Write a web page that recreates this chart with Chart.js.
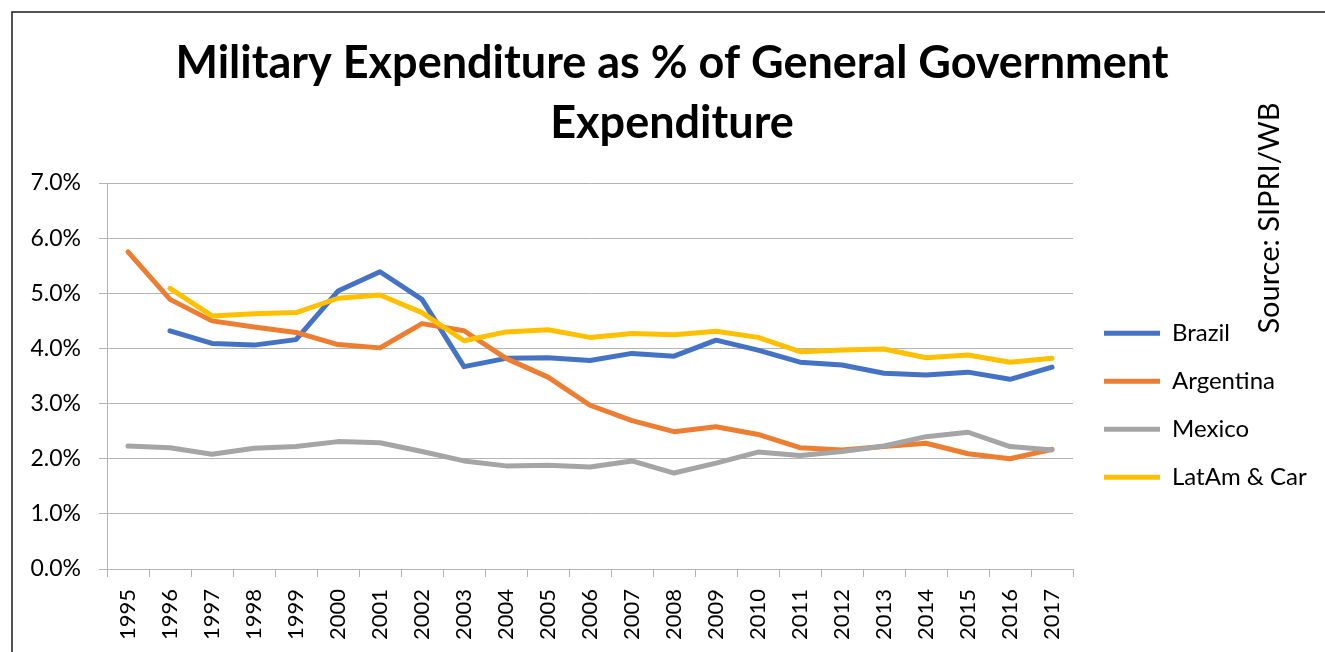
<!DOCTYPE html>
<html>
<head>
<meta charset="utf-8">
<script src="https://cdn.jsdelivr.net/npm/chart.js@4.4.1/dist/chart.umd.min.js"></script>
<style>
  html, body { margin: 0; padding: 0; background: #fff; }
  canvas { display: block; }
</style>
</head>
<body>
<canvas id="milexChart" width="1325" height="652"></canvas>
<script>
const years = ['1995','1996','1997','1998','1999','2000','2001','2002','2003','2004','2005','2006',
  '2007','2008','2009','2010','2011','2012','2013','2014','2015','2016','2017'];
const brazil = [null, 4.32, 4.09, 4.06, 4.16, 5.04, 5.39, 4.89, 3.67, 3.82, 3.83, 3.78,
  3.91, 3.86, 4.15, 3.97, 3.75, 3.70, 3.55, 3.52, 3.57, 3.44, 3.66];
const argentina = [5.75, 4.89, 4.50, 4.39, 4.29, 4.07, 4.01, 4.45, 4.32, 3.82, 3.48, 2.97,
  2.69, 2.49, 2.58, 2.44, 2.20, 2.16, 2.22, 2.28, 2.09, 2.00, 2.17];
const mexico = [2.23, 2.20, 2.08, 2.19, 2.22, 2.31, 2.29, 2.13, 1.96, 1.87, 1.88, 1.85,
  1.96, 1.74, 1.92, 2.12, 2.06, 2.13, 2.23, 2.40, 2.48, 2.22, 2.16];
const latam = [null, 5.09, 4.59, 4.63, 4.65, 4.91, 4.97, 4.65, 4.14, 4.30, 4.34, 4.20,
  4.27, 4.25, 4.31, 4.20, 3.94, 3.97, 3.99, 3.83, 3.88, 3.75, 3.82];
const seriesNames = ['Brazil', 'Argentina', 'Mexico', 'LatAm & Car'];
const seriesColors = ['#4472C4', '#ED7D31', '#A5A5A5', '#FFC000'];
const titleLines = ['Military Expenditure as % of General Government', 'Expenditure'];
const sourceText = 'Source: SIPRI/WB';

const FONT = 'Lato, "Open Sans", sans-serif';
const gridColor = '#b4b4b4';
const RIGHT_SPACE = 252; // canvas right edge minus plot right edge
const GAP_IN = 7;

function line(i, values){
  return {
    label: seriesNames[i],
    data: values,
    borderColor: seriesColors[i],
    backgroundColor: seriesColors[i],
    borderWidth: 5,
    borderCapStyle: 'round',
    borderJoinStyle: 'round',
    pointRadius: 0,
    tension: 0,
    order: 3 - i
  };
}

// frame + rotated source note
const decor = {
  id: 'decor',
  afterDraw(chart){
    const ctx = chart.ctx;
    ctx.save();
    ctx.strokeStyle = '#1a1a1a';
    ctx.lineWidth = 1.5;
    ctx.beginPath();
    ctx.moveTo(12, 660);
    ctx.lineTo(12, 12);
    ctx.lineTo(1330, 12);
    ctx.stroke();
    ctx.translate(1270, 218);
    ctx.rotate(-Math.PI / 2);
    ctx.fillStyle = '#000';
    ctx.font = '29px ' + FONT;
    ctx.textAlign = 'center';
    ctx.textBaseline = 'middle';
    ctx.fillText(sourceText, 0, 0);
    ctx.restore();
  }
};

new Chart(document.getElementById('milexChart').getContext('2d'), {
  type: 'line',
  data: {
    labels: years,
    datasets: [line(0, brazil), line(1, argentina), line(2, mexico), line(3, latam)]
  },
  options: {
    responsive: false,
    animation: false,
    devicePixelRatio: 1,
    layout: { padding: { left: 19, right: 0, top: 0, bottom: 0 } },
    plugins: {
      title: {
        display: true,
        text: titleLines,
        color: '#000',
        font: { family: FONT, size: 45, weight: 'bold', lineHeight: 60 / 45 },
        padding: { top: 33, bottom: 30 }
      },
      legend: {
        position: 'right',
        fullSize: false,
        maxWidth: 400,
        title: { display: true, text: '', font: { size: 12, lineHeight: 1.2 }, padding: { top: 44, bottom: 0 } },
        labels: {
          usePointStyle: true,
          pointStyle: 'line',
          pointStyleWidth: 56,
          padding: 24,
          color: '#000',
          font: { family: FONT, size: 24 },
          sort: (a, b) => a.datasetIndex - b.datasetIndex
        }
      },
      tooltip: { enabled: false }
    },
    scales: {
      x: {
        offset: true,
        grid: { offset: true, drawOnChartArea: false, drawTicks: true, tickLength: 8, color: gridColor },
        border: { display: true, color: gridColor },
        ticks: {
          autoSkip: false, maxRotation: 90, minRotation: 90, padding: 12,
          color: '#000', font: { family: FONT, size: 22 }
        },
        afterFit(scale){ scale.height = 83; }
      },
      y: {
        min: 0, max: 7,
        grid: { color: gridColor, tickLength: 8 },
        border: { display: true, color: gridColor },
        ticks: {
          stepSize: 1, padding: 18, color: '#000',
          font: { family: FONT, size: 23 },
          callback: v => v.toFixed(1) + '%'
        },
        afterFit(scale){ scale.width = 88; }
      },
      gapIn: {
        position: 'right', display: true, weight: 0,
        grid: { display: false }, border: { display: false }, ticks: { display: false },
        afterFit(scale){ scale.width = GAP_IN; }
      },
      gapOut: {
        position: 'right', display: true, weight: 2000,
        grid: { display: false }, border: { display: false }, ticks: { display: false },
        afterFit(scale){
          const lw = scale.chart.legend ? scale.chart.legend.width : 220;
          scale.width = Math.max(0, RIGHT_SPACE - GAP_IN - lw);
        }
      }
    }
  },
  plugins: [decor]
});
</script>
</body>
</html>
